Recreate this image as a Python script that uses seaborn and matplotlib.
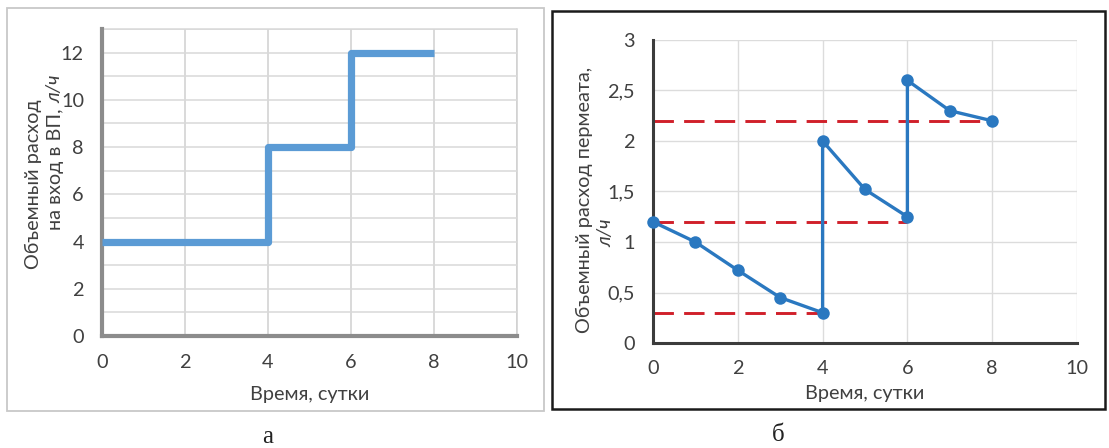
import matplotlib
matplotlib.use("Agg")
import matplotlib.pyplot as plt
import seaborn as sns
import pandas as pd
from matplotlib.patches import Rectangle
from matplotlib.ticker import MultipleLocator, FixedLocator

# ---------------- data ----------------
# panel a: inlet flow (step changes)
feed_days = [0, 4, 6, 8]
feed_flow = [4, 8, 12, 12]

# panel b: permeate flow
perm_days = [0, 1, 2, 3, 4, 4, 5, 6, 6, 7, 8]
perm_flow = [1.2, 1.0, 0.72, 0.45, 0.3, 2.0, 1.52, 1.25, 2.6, 2.3, 2.2]

# red dashed reference levels and where they end
ref_levels = [0.3, 1.2, 2.2]
ref_ends = [4, 6, 8]

x_ticks = [0, 2, 4, 6, 8, 10]
a_yticks = [0, 2, 4, 6, 8, 10, 12]
b_yticks = [0, 0.5, 1, 1.5, 2, 2.5, 3]
b_yticklabels = ["0", "0,5", "1", "1,5", "2", "2,5", "3"]

xlabel_text = "Время, сутки"
a_ylabel_1 = "Объемный расход"
a_ylabel_2 = "на вход в ВП, "
b_ylabel_1 = "Объемный расход пермеата,"
unit_text = "л/ч"

# ---------------- style ----------------
sns.set_theme(style="white")
plt.rcParams["font.family"] = ["Lato", "DejaVu Sans"]

W, H = 1109, 448
fig = plt.figure(figsize=(W / 100, H / 100), dpi=100)


def fx(px):
    return px / W


def fy(py):
    return 1 - py / H


def axes_rect(x0, y0, x1, y1):
    return [fx(x0), fy(y1), fx(x1) - fx(x0), fy(y0) - fy(y1)]


FS = 14.3
TXT = "#404040"

# frames around panels
fig.patches.append(Rectangle((fx(7), fy(411)), fx(544) - fx(7), fy(8) - fy(411),
                             transform=fig.transFigure, fill=False,
                             edgecolor="#c8c8c8", lw=1.3, zorder=0))
fig.patches.append(Rectangle((fx(552), fy(409)), fx(1105) - fx(552), fy(11) - fy(409),
                             transform=fig.transFigure, fill=False,
                             edgecolor="#1a1a1a", lw=1.8, zorder=0))

# ---------------- panel a ----------------
axa = fig.add_axes(axes_rect(102, 29, 517, 336))
df_a = pd.DataFrame({"t": feed_days, "q": feed_flow})
sns.lineplot(data=df_a, x="t", y="q", ax=axa, color="#5b9bd5", lw=5.2,
             drawstyle="steps-post", sort=False, estimator=None,
             solid_capstyle="butt", zorder=3)
axa.set_xlim(0, 10)
axa.set_ylim(0, 13)
axa.xaxis.set_major_locator(FixedLocator(x_ticks))
axa.yaxis.set_major_locator(FixedLocator(a_yticks))
axa.yaxis.set_minor_locator(MultipleLocator(1))
axa.grid(True, which="both", axis="y", color="#d9d9d9", lw=1.1)
axa.grid(True, which="major", axis="x", color="#d0d0d0", lw=1.1)
for s in ["top", "right"]:
    axa.spines[s].set_visible(False)
for s in ["left", "bottom"]:
    axa.spines[s].set_color("#8c8c8c")
    axa.spines[s].set_linewidth(3)
axa.axhline(13, color="#d9d9d9", lw=1.1, zorder=0)
axa.axvline(10, color="#d0d0d0", lw=1.1, zorder=0)
axa.tick_params(axis="both", which="both", length=0, labelsize=FS, colors=TXT)
axa.tick_params(axis="y", pad=13)
axa.tick_params(axis="x", pad=13)
axa.set_xlabel("")
axa.set_ylabel("")

# ---------------- panel b ----------------
axb = fig.add_axes(axes_rect(653, 40, 1077, 343))
for lvl, end in zip(ref_levels, ref_ends):
    df_r = pd.DataFrame({"t": [0, end], "q": [lvl, lvl]})
    sns.lineplot(data=df_r, x="t", y="q", ax=axb, color="#d0202a", lw=2.1,
                 estimator=None, zorder=2).lines[-1].set_dashes((7, 3.5))
df_b = pd.DataFrame({"t": perm_days, "q": perm_flow})
sns.lineplot(data=df_b, x="t", y="q", ax=axb, color="#2a78c0", lw=2.4,
             sort=False, estimator=None, marker="o", markersize=9,
             markeredgewidth=0, zorder=4)
axb.set_xlim(0, 10)
axb.set_ylim(0, 3)
axb.xaxis.set_major_locator(FixedLocator(x_ticks))
axb.set_yticks(b_yticks)
axb.set_yticklabels(b_yticklabels)
axb.grid(True, which="major", color="#dcdcdc", lw=1.0)
for s in ["top", "right"]:
    axb.spines[s].set_visible(False)
for s in ["left", "bottom"]:
    axb.spines[s].set_color("#3c3c3c")
    axb.spines[s].set_linewidth(2.2)
axb.tick_params(axis="both", which="both", length=0, labelsize=FS, colors=TXT)
axb.tick_params(axis="y", pad=13)
axb.tick_params(axis="x", pad=12)
axb.set_xlabel("")
axb.set_ylabel("")
for a in (axa, axb):
    for ln in a.lines:
        ln.set_clip_on(False)

# ---------------- labels ----------------
fig.text(fx(310), fy(394), xlabel_text, ha="center", va="center", fontsize=FS, color=TXT)
fig.text(fx(865), fy(393), xlabel_text, ha="center", va="center", fontsize=FS, color=TXT)

fig.text(fx(33), fy(184), a_ylabel_1, rotation=90, ha="center", va="center",
         fontsize=FS, color=TXT)
t2 = fig.text(fx(55), fy(230), a_ylabel_2, rotation=90, ha="center", va="bottom",
              fontsize=FS, color=TXT)
plt.annotate(unit_text, xy=(0.5, 1), xycoords=t2, ha="center", va="bottom",
             rotation=90, fontsize=FS, color=TXT, style="italic",
             annotation_clip=False)

fig.text(fx(584), fy(200), b_ylabel_1, rotation=90, ha="center", va="center",
         fontsize=FS, color=TXT)
fig.text(fx(606), fy(233), unit_text, rotation=90, ha="center", va="center",
         fontsize=FS, color=TXT, style="italic")

# captions
fig.text(fx(268), fy(437), "а", ha="center", va="center", fontsize=18,
         family="Liberation Serif", color="#222222")
fig.text(fx(778), fy(435), "б", ha="center", va="center", fontsize=18,
         family="Liberation Serif", color="#222222")

fig.savefig("out.png", dpi=100)
